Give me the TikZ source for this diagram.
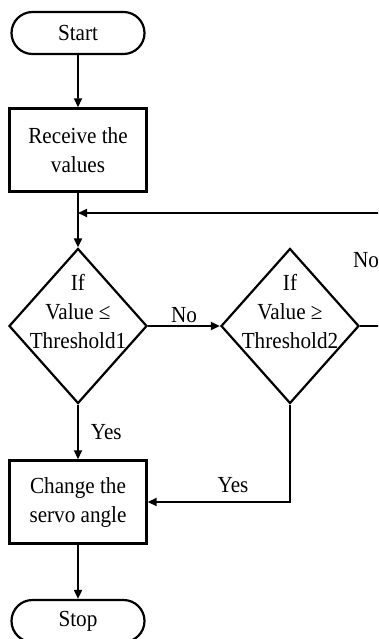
\documentclass[tikz,border=0pt]{standalone}
\usepackage{fontspec}
\setmainfont{Liberation Serif}[FakeStretch=0.92]
\usetikzlibrary{arrows.meta, shapes.geometric, shapes.misc}

\begin{document}
\begin{tikzpicture}[x=1pt, y=-1pt,
    term/.style={rounded rectangle, draw, line width=2.2pt, minimum width=137pt,
                 minimum height=42pt, inner sep=2pt, font=\fontsize{23}{29}\selectfont},
    proc/.style={rectangle, draw, line width=2.4pt, minimum width=137pt,
                 minimum height=83pt, align=center, font=\fontsize{23}{29}\selectfont},
    decide/.style={diamond, draw, line width=2.2pt, minimum width=138pt,
                   minimum height=155pt, inner sep=0pt},
    dtxt/.style={align=center, font=\fontsize{23}{29}\selectfont, yshift=14pt},
    lbl/.style={font=\fontsize{23}{29}\selectfont, inner sep=2pt},
    arr/.style={line width=1.8pt, -{Triangle[length=9pt,width=8pt]}}
]
    \useasboundingbox (0,0) rectangle (378,639);
    \clip (0,0) rectangle (378,639);

    % Blocks
    \node[term] (start) at (78,33) {Start};
    \node[proc] (rcv) at (78,150) {Receive the\\values};
    \node[decide, label={[dtxt]center:{If\\Value ≤\\Threshold1}}] (d1) at (78,326) {};
    \node[decide, label={[dtxt]center:{If\\Value ≥\\Threshold2}}] (d2) at (290,326) {};
    \node[proc] (chg) at (78,502) {Change the\\servo angle};
    \node[term] (stop) at (78,621) {Stop};

    % Loop back points
    \coordinate (join) at (78,213);
    \coordinate (loopR) at (400,213);

    % Connectors
    \draw[arr] (start) -- (rcv);
    \draw[arr] (rcv) -- (d1);
    \draw[arr] (d1) -- node[lbl, above] (no1) {No} (d2);
    \draw[arr] (d1) -- node[lbl, right=10pt] (yes1) {Yes} (chg);
    \draw[arr] (d2) |- node[lbl, pos=0.7, above=6pt] (yes2) {Yes} (chg);
    \draw[arr] (d2.east) -- (d2.east -| loopR) -- (loopR) -- (join);
    \node[lbl] (no2) at (366,260) {No};
    \draw[arr] (chg) -- (stop);

\end{tikzpicture}
\end{document}
